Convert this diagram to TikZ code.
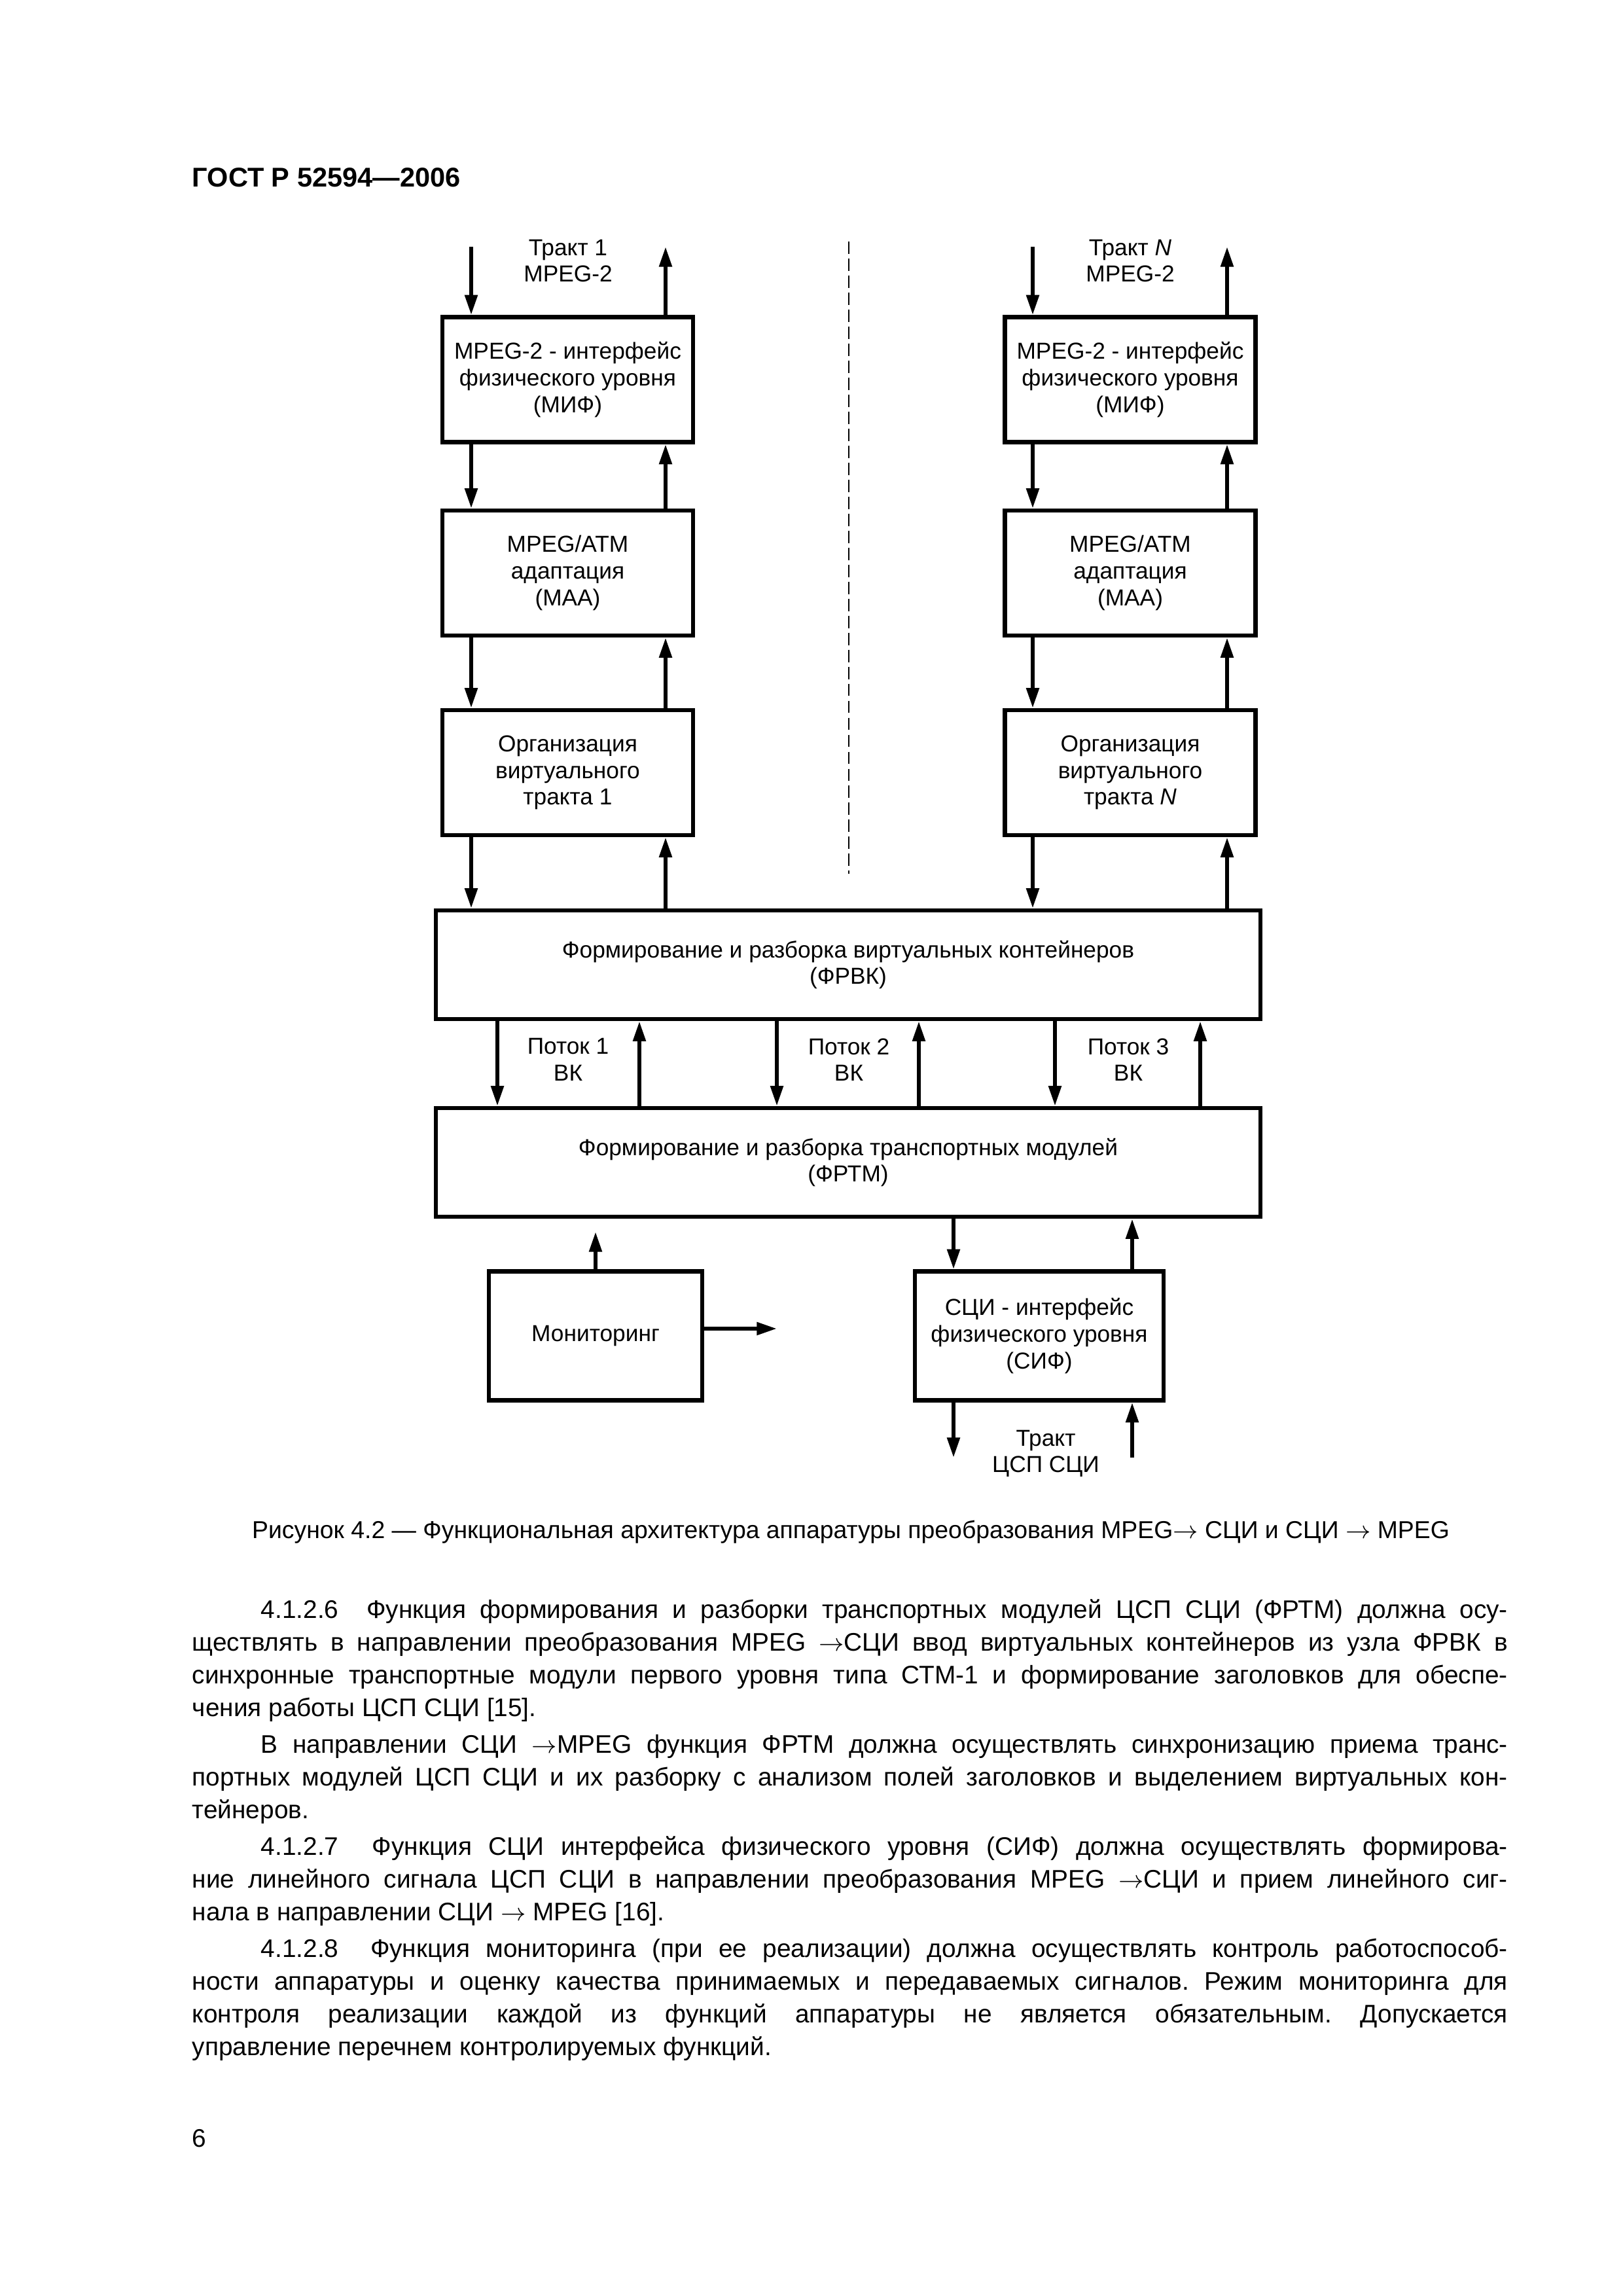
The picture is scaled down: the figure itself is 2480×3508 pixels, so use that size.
\documentclass[tikz,border=0pt]{standalone}
\usepackage{fontspec}
\setmainfont{Liberation Sans}
\usetikzlibrary{arrows.meta}
\frenchspacing

% one pixel of the page
\newlength\pxl \setlength\pxl{0.0846774mm}
\newlength\abzwd \setlength\abzwd{1905\pxl}
\newlength\strwd \setlength\strwd{2010\pxl}
\newcommand\diagfont{\fontsize{8.5}{9.8}\selectfont}
\newcommand\tekstfont{\fontsize{9.35}{12}\selectfont}
\newcommand\strl{$\rightarrow$}

\begin{document}
\begin{tikzpicture}[x=1\pxl,y=-1\pxl]
\tikzset{blok/.style = {draw, line width=0.55mm, align=center, font=\diagfont, inner sep=0pt}}
\tikzset{strelka/.style = {line width=0.5mm, -{Triangle[width=1.6mm,length=2.6mm]}}}
\tikzset{podpis/.style = {align=center, font=\diagfont, inner sep=0pt}}
\tikzset{stroka/.style = {anchor=base west, inner sep=0pt, font=\tekstfont}}
\path[fill=white] (0,0) rectangle (2480,3508);
% header
\node[anchor=base west, inner sep=0pt, font=\fontsize{10}{12}\selectfont\bfseries] (gost) at (293,285) {ГОСТ Р 52594—2006};
% blocks
\node[blok, minimum width=383\pxl, minimum height=191\pxl] (mif1) at (867.5,580) {MPEG-2 - интерфейс\\физического уровня\\(МИФ)};
\node[blok, minimum width=383\pxl, minimum height=191\pxl] (maa1) at (867.5,875.5) {MPEG/ATM\\адаптация\\(МАА)};
\node[blok, minimum width=383\pxl, minimum height=191\pxl] (org1) at (867.5,1180.5) {Организация\\виртуального\\тракта 1};
\node[blok, minimum width=383\pxl, minimum height=191\pxl] (mifN) at (1727,580) {MPEG-2 - интерфейс\\физического уровня\\(МИФ)};
\node[blok, minimum width=383\pxl, minimum height=191\pxl] (maaN) at (1727,875.5) {MPEG/ATM\\адаптация\\(МАА)};
\node[blok, minimum width=383\pxl, minimum height=191\pxl] (orgN) at (1727,1180.5) {Организация\\виртуального\\тракта \textit{N}};
\node[blok, minimum width=1260\pxl, minimum height=166\pxl] (frvk) at (1296,1474) {Формирование и разборка виртуальных контейнеров\\(ФРВК)};
\node[blok, minimum width=1260\pxl, minimum height=166\pxl] (frtm) at (1296,1776) {Формирование и разборка транспортных модулей\\(ФРТМ)};
\node[blok, minimum width=326\pxl, minimum height=197\pxl] (mon) at (910,2041) {Мониторинг};
\node[blok, minimum width=380\pxl, minimum height=197\pxl] (sif) at (1588,2041) {СЦИ - интерфейс\\физического уровня\\(СИФ)};
% labels
\node[podpis] (trakt1) at (868,398.5) {Тракт 1\\MPEG-2};
\node[podpis] (traktN) at (1727,398.5) {Тракт \textit{N}\\MPEG-2};
\node[podpis] (potok1) at (868,1619) {Поток 1\\ВК};
\node[podpis] (potok2) at (1297,1619) {Поток 2\\ВК};
\node[podpis] (potok3) at (1724,1619) {Поток 3\\ВК};
\node[podpis] (trakts) at (1598,2221) {Тракт\\ЦСП СЦИ};
% columns of arrows
\coordinate (v1) at (720,377);
\coordinate (u1) at (1017,377);
\coordinate (vN) at (1578,377);
\coordinate (uN) at (1875,377);
\draw[strelka] (v1) -- (v1 |- mif1.north);
\draw[strelka] (mif1.north -| u1) -- (u1);
\draw[strelka] (vN) -- (vN |- mifN.north);
\draw[strelka] (mifN.north -| uN) -- (uN);
\draw[strelka] (mif1.south -| v1) -- (maa1.north -| v1);
\draw[strelka] (maa1.north -| u1) -- (mif1.south -| u1);
\draw[strelka] (maa1.south -| v1) -- (org1.north -| v1);
\draw[strelka] (org1.north -| u1) -- (maa1.south -| u1);
\draw[strelka] (org1.south -| v1) -- (frvk.north -| v1);
\draw[strelka] (frvk.north -| u1) -- (org1.south -| u1);
\draw[strelka] (mifN.south -| vN) -- (maaN.north -| vN);
\draw[strelka] (maaN.north -| uN) -- (mifN.south -| uN);
\draw[strelka] (maaN.south -| vN) -- (orgN.north -| vN);
\draw[strelka] (orgN.north -| uN) -- (maaN.south -| uN);
\draw[strelka] (orgN.south -| vN) -- (frvk.north -| vN);
\draw[strelka] (frvk.north -| uN) -- (orgN.south -| uN);
% dashed divider
\coordinate (d1) at (1297,369);
\coordinate (d2) at (1297,1335);
\draw[line width=0.25mm, dash pattern=on 1.6mm off 0.6mm] (d1) -- (d2);
% streams
\foreach \dn/\up in {760/977, 1187/1404, 1612/1834} {
  \draw[strelka] (frvk.south -| \dn,0) -- (frtm.north -| \dn,0);
  \draw[strelka] (frtm.north -| \up,0) -- (frvk.south -| \up,0);
}
% bottom part
\coordinate (monup) at (910,1882);
\coordinate (monout) at (1187,2030);
\draw[strelka] (mon.north) -- (monup);
\draw[strelka] (mon.east |- monout) -- (monout);
\coordinate (sd) at (1457,2227);
\coordinate (su) at (1730,2227);
\draw[strelka] (frtm.south -| sd) -- (sif.north -| sd);
\draw[strelka] (sif.north -| su) -- (frtm.south -| su);
\draw[strelka] (sif.south -| sd) -- (sd);
\draw[strelka] (su) -- (sif.south -| su);
% caption
\node[anchor=base, inner sep=0pt, font=\fontsize{9}{11}\selectfont] (caption) at (1300,2350) {Рисунок 4.2 — Функциональная архитектура аппаратуры преобразования MPEG\strl{} СЦИ и СЦИ \strl{} MPEG};
% text
\node[stroka] (p1a) at (398,2472) {\makebox[\abzwd][s]{4.1.2.6~ Функция формирования и разборки транспортных модулей ЦСП СЦИ (ФРТМ) должна осу-}};
\node[stroka] (p1b) at (293,2522) {\makebox[\strwd][s]{ществлять в направлении преобразования MPEG \strl СЦИ ввод виртуальных контейнеров из узла ФРВК в}};
\node[stroka] (p1c) at (293,2572) {\makebox[\strwd][s]{синхронные транспортные модули первого уровня типа СТМ-1 и формирование заголовков для обеспе-}};
\node[stroka] (p1d) at (293,2622) {чения работы ЦСП СЦИ [15].};
\node[stroka] (p2a) at (398,2678) {\makebox[\abzwd][s]{В направлении СЦИ \strl MPEG функция ФРТМ должна осуществлять синхронизацию приема транс-}};
\node[stroka] (p2b) at (293,2728) {\makebox[\strwd][s]{портных модулей ЦСП СЦИ и их разборку с анализом полей заголовков и выделением виртуальных кон-}};
\node[stroka] (p2c) at (293,2778) {тейнеров.};
\node[stroka] (p3a) at (398,2834) {\makebox[\abzwd][s]{4.1.2.7~ Функция СЦИ интерфейса физического уровня (СИФ) должна осуществлять формирова-}};
\node[stroka] (p3b) at (293,2884) {\makebox[\strwd][s]{ние линейного сигнала ЦСП СЦИ в направлении преобразования MPEG \strl СЦИ и прием линейного сиг-}};
\node[stroka] (p3c) at (293,2934) {нала в направлении СЦИ \strl{} MPEG [16].};
\node[stroka] (p4a) at (398,2990) {\makebox[\abzwd][s]{4.1.2.8~ Функция мониторинга (при ее реализации) должна осуществлять контроль работоспособ-}};
\node[stroka] (p4b) at (293,3040) {\makebox[\strwd][s]{ности аппаратуры и оценку качества принимаемых и передаваемых сигналов. Режим мониторинга для}};
\node[stroka] (p4c) at (293,3090) {\makebox[\strwd][s]{контроля реализации каждой из функций аппаратуры не является обязательным. Допускается}};
\node[stroka] (p4d) at (293,3140) {управление перечнем контролируемых функций.};
% page number
\node[stroka] (page) at (293,3280) {6};
\end{tikzpicture}
\end{document}
